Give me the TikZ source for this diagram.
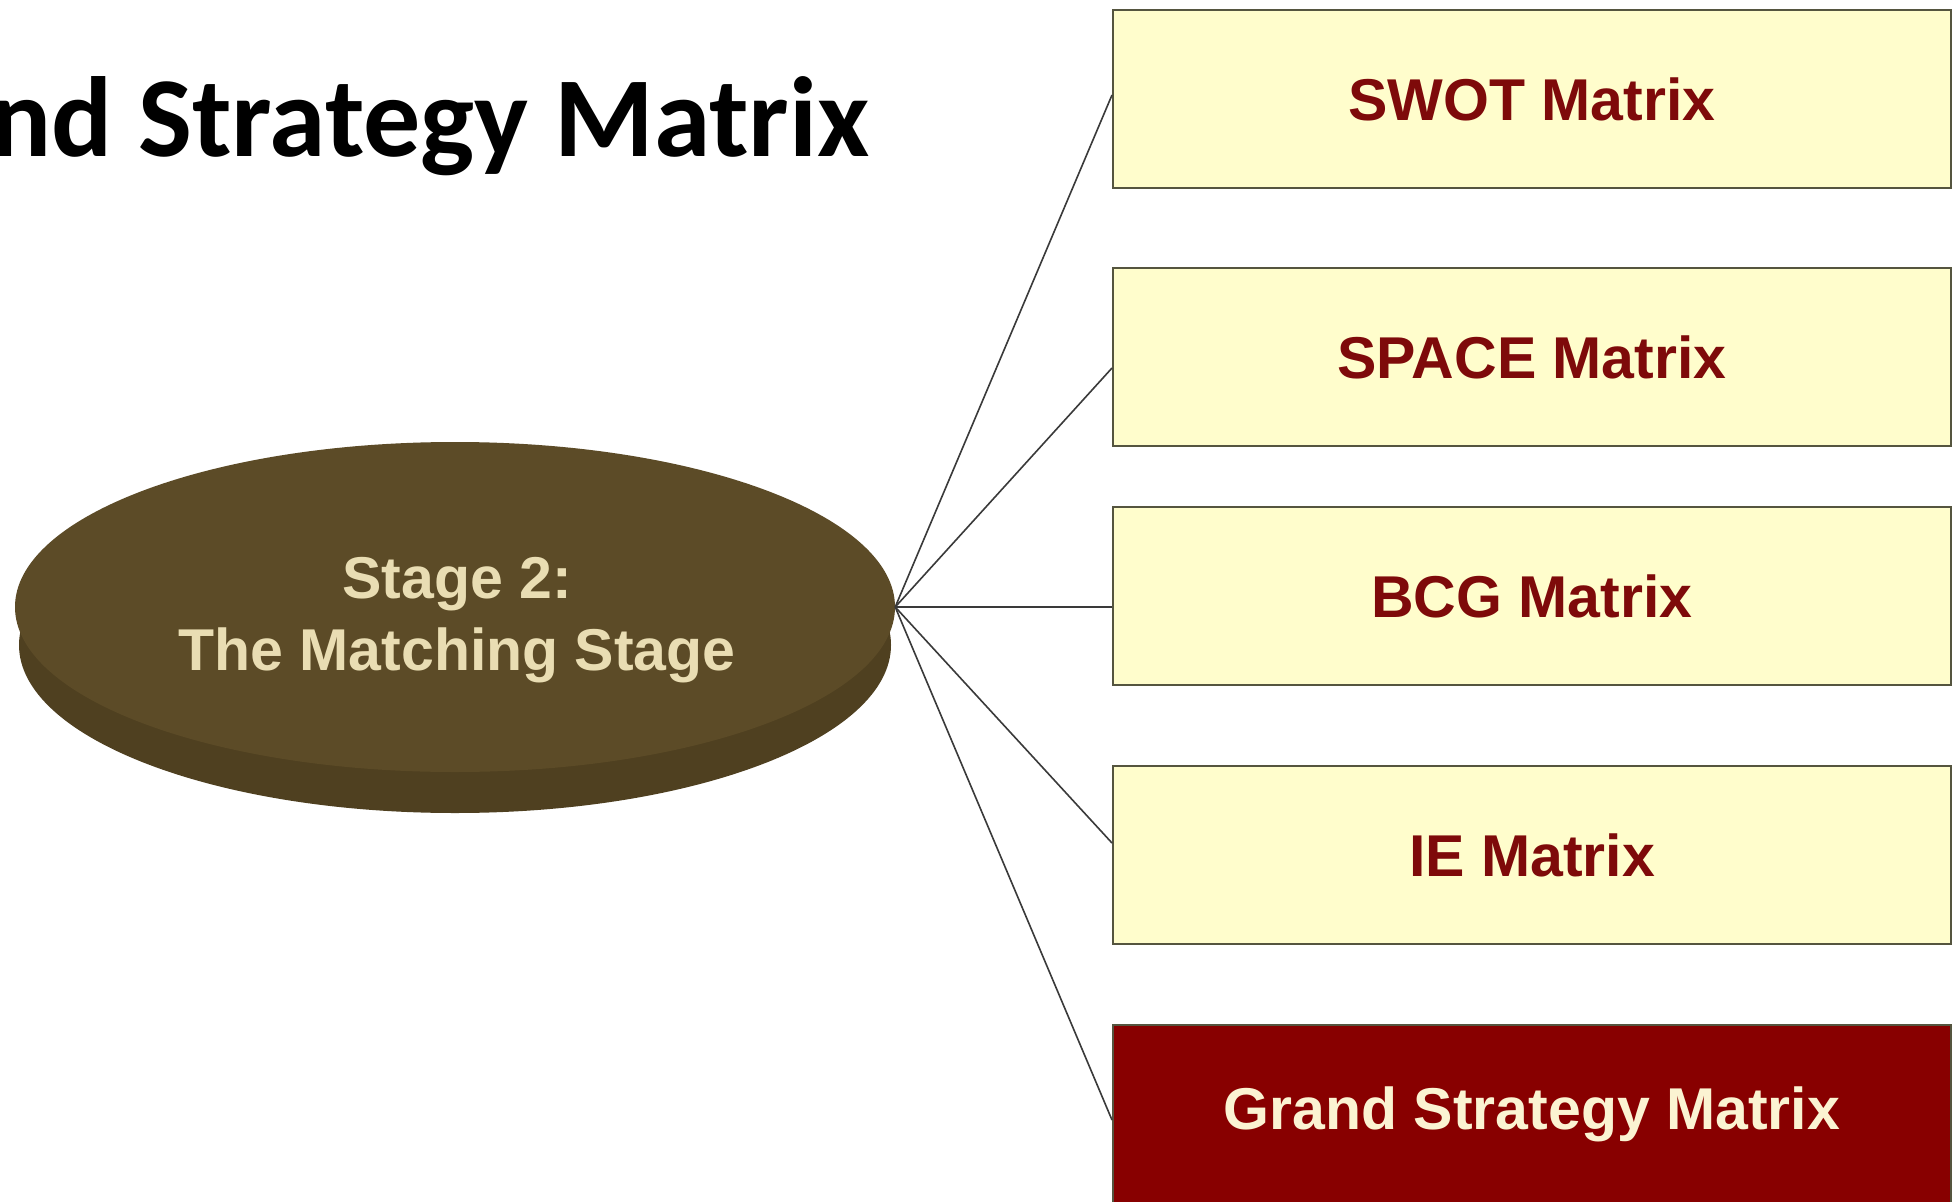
\documentclass[tikz,border=0pt]{standalone}
\usepackage{fontspec}
\setmainfont{Liberation Sans}
\newfontfamily\titlefont{Carlito}
\usetikzlibrary{shapes.geometric}
\definecolor{discface}{HTML}{5C4B27}
\definecolor{discrim}{HTML}{4F4020}
\definecolor{disctext}{HTML}{E9DDB3}
\definecolor{boxfill}{HTML}{FFFDCC}
\definecolor{boxline}{HTML}{55553F}
\definecolor{boxtext}{HTML}{7E0A0A}
\definecolor{hotfill}{HTML}{880000}
\definecolor{hottext}{HTML}{FBF3D2}
\definecolor{wire}{HTML}{3A3A3A}
\tikzset{
  mbox/.style={draw=boxline, line width=2pt, fill=boxfill, text=boxtext,
    minimum width=838pt, minimum height=178pt, inner sep=0pt,
    font=\fontsize{59}{68}\selectfont\bfseries},
  hotbox/.style={mbox, fill=hotfill, text=hottext},
  wireline/.style={draw=wire, line width=1.6pt},
}
\begin{document}
\begin{tikzpicture}[x=1pt, y=-1pt]
\useasboundingbox (0,0) rectangle (1955,1202);
\fill[white] (0,0) rectangle (1955,1202);

% heading
\node[anchor=base west, inner sep=0pt, font=\titlefont\fontsize{114}{126}\selectfont\bfseries]
  (title) at (-10,156) {nd Strategy Matrix};

% disc: darker rim below, face on top
\fill[discrim] (455,645) ellipse (436pt and 168pt);
\node[ellipse, fill=discface, minimum width=880pt, minimum height=330pt, inner sep=0pt]
  (stage) at (455,607) {};
\node[align=center, text=disctext, font=\fontsize{59}{72}\selectfont\bfseries]
  (stagetext) at (457,620) {Stage 2:\\The Matching Stage};
\coordinate (hub) at (stage.east);

% matrix boxes
\node[mbox] (swot)  at (1532,99)  {SWOT Matrix};
\node[mbox] (space) at (1532,357) {SPACE Matrix};
\node[mbox] (bcg)   at (1532,596) {BCG Matrix};
\node[mbox] (ie)    at (1532,855) {IE Matrix};
\node[hotbox] (gsm) at (1532,1114) {Grand Strategy Matrix};

% connectors from the disc to the left side of each box
\draw[wireline] (hub) -- ([yshift=4pt]swot.west);
\draw[wireline] (hub) -- ([yshift=-11pt]space.west);
\draw[wireline] (hub) -- (hub -| bcg.west);
\draw[wireline] (hub) -- ([yshift=12pt]ie.west);
\draw[wireline] (hub) -- ([yshift=-6pt]gsm.west);
\end{tikzpicture}
\end{document}
